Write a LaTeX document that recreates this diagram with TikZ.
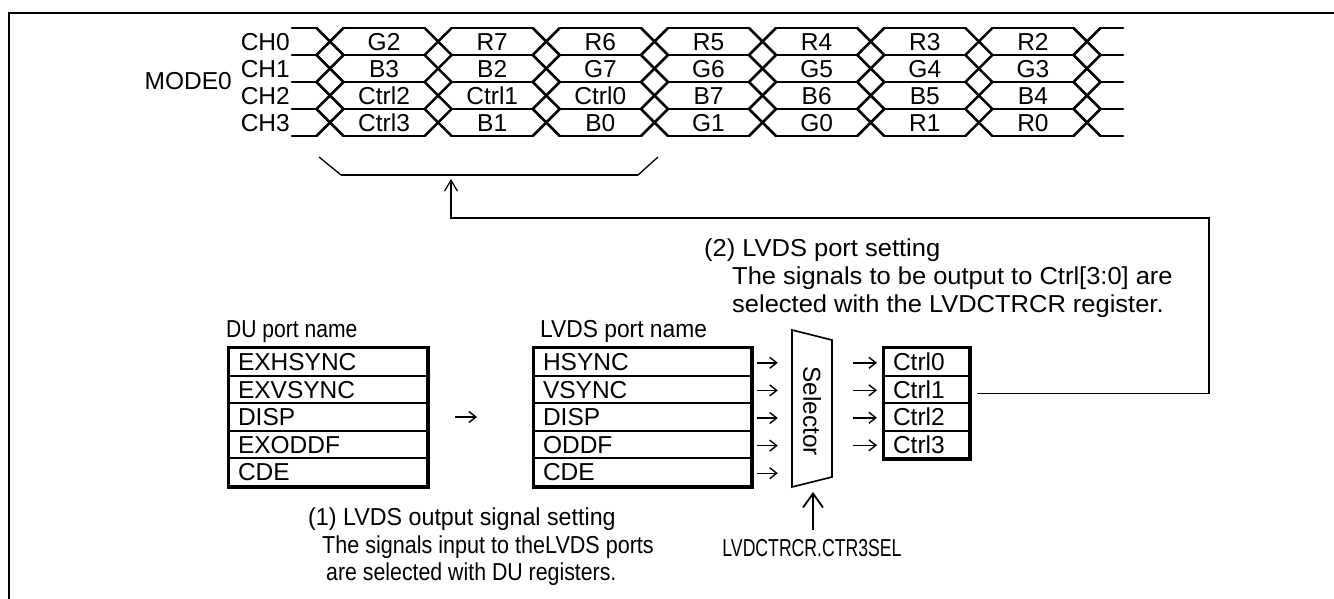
\documentclass[tikz,border=0pt]{standalone}
\usepackage{graphicx}
\usepackage{fontspec}
\setmainfont{Liberation Sans}
\usetikzlibrary{arrows.meta}
\newcommand\hsq[2]{\scalebox{#1}[1]{#2}}
\begin{document}
\begin{tikzpicture}[x=1bp,y=-1bp,
  every node/.style={font=\fontsize{24.5bp}{28bp}\selectfont, inner sep=0pt},
  wave/.style={line width=2.6bp, line cap=round},
  cell/.style={draw, line width=2bp, minimum height=27.6bp, anchor=north west,
     text height=17.5bp, text depth=0bp, inner xsep=9bp, align=left},
  outer/.style={line width=3bp},
  tarr/.style={line width=1.4bp, -{Straight Barb[length=7bp,width=11bp]}},
  uarr/.style={line width=1.8bp, -{Straight Barb[length=14bp,width=20bp]}},
  fb/.style={line width=1.2bp, -{Straight Barb[length=11bp,width=13bp]}},
  txt/.style={anchor=base west},
]
\useasboundingbox (0,0) rectangle (1334,599);
% frame
\draw[line width=2.6bp] (9,599) -- (9,13) -- (1334,13);

% ---------- timing waveforms ----------
\def\cw{13.5}
\foreach \k in {0,...,4}{
  \pgfmathsetmacro\yy{28+27*\k}
  \draw[wave] (292,\yy) -- ({330-\cw},\yy);
  \foreach \j in {0,...,6}{
    \draw[wave] ({330+108.14*\j+\cw},\yy) -- ({330+108.14*(\j+1)-\cw},\yy);
  }
  \draw[wave] ({1087+\cw},\yy) -- (1123,\yy);
}
\foreach \j in {0,...,7}{
  \foreach \k in {0,...,3}{
    \pgfmathsetmacro\cx{330+108.14*\j}
    \pgfmathsetmacro\ya{28+27*\k}
    \pgfmathsetmacro\yb{55+27*\k}
    \draw[wave] ({\cx-\cw},\ya) -- ({\cx+\cw},\yb);
    \draw[wave] ({\cx-\cw},\yb) -- ({\cx+\cw},\ya);
  }
}
% channel labels
\node[anchor=base east] (ch0) at (290,50.3) {CH0};
\node[anchor=base east] (ch1) at (290,77.3) {CH1};
\node[anchor=base east] (ch2) at (290,104.3) {CH2};
\node[anchor=base east] (ch3) at (290,131.3) {CH3};
\node[anchor=base east] (mode) at (232,90) {MODE0};
% cell labels
\foreach \row [count=\k from 0] in {{G2,R7,R6,R5,R4,R3,R2},{B3,B2,G7,G6,G5,G4,G3},{Ctrl2,Ctrl1,Ctrl0,B7,B6,B5,B4},{Ctrl3,B1,B0,G1,G0,R1,R0}}{
  \foreach \lab [count=\j from 0] in \row {
    \node[anchor=base] (w\k\j) at ({330+108.14*\j+54.07},{50.3+27*\k}) {\lab};
  }
}
% brace under Ctrl cells
\draw[line width=1.3bp] (319,157) -- (341,175);
\draw[line width=1.3bp] (638,175) -- (658,157);
\draw[line width=2.6bp] (341,175) -- (638,175);
\coordinate (tip) at (451,179);
\coordinate (fbR) at (1209,218);

% ---------- DU port boxes ----------
\node[txt] (dulab) at (226,337) {\hsq{0.86}{DU port name}};
\foreach \t [count=\i] in {EXHSYNC,EXVSYNC,DISP,EXODDF,CDE}{
  \node[cell, text width=180bp] (du\i) at (228,{347+27.6*(\i-1)}) {\t};
}
\draw[outer] (du1.north west) rectangle (du5.south east);

% ---------- LVDS port boxes ----------
\node[txt] (lvlab) at (540,337) {\hsq{0.93}{LVDS port name}};
\foreach \t [count=\i] in {HSYNC,VSYNC,DISP,ODDF,CDE}{
  \node[cell, text width=199bp] (lv\i) at (533,{347+27.6*(\i-1)}) {\t};
}
\draw[outer] (lv1.north west) rectangle (lv5.south east);

\draw[tarr, shorten <=27bp, shorten >=56bp] (du3.east) -- (lv3.west);

% ---------- selector ----------
\draw[line width=1.6bp] (792,330) -- (832,340) -- (832,477) -- (792,487) -- cycle;
\node[minimum width=40bp, minimum height=157bp] (sel) at (812,408.5) {};
\node[rotate=-90] (seltxt) at (812,411) {Selector};
\foreach \i in {1,...,5}{
  \draw[tarr, shorten <=5bp, shorten >=14bp] ([yshift=-1bp]lv\i.east) -- ([yshift=-1bp]lv\i.east -| sel.west);
}

% ---------- Ctrl boxes ----------
\foreach \t [count=\i] in {Ctrl0,Ctrl1,Ctrl2,Ctrl3}{
  \node[cell, text width=67bp] (c\i) at (883,{347+27.5*(\i-1)}) {\t};
  \draw[tarr, shorten <=21bp, shorten >=6bp] ([yshift=-1bp]c\i.west -| sel.east) -- ([yshift=-1bp]c\i.west);
}
\draw[outer] (c1.north west) rectangle (c4.south east);

% feedback connector
\draw[fb] ([xshift=7bp,yshift=-4.5bp]c2.east) -| (fbR) -| (tip);

% ---------- register control ----------
\node (ctr) at (812,548) {\hsq{0.72}{LVDCTRCR.CTR3SEL}};
\coordinate (selb) at (813,482);
\draw[uarr, shorten <=9bp, shorten >=10bp] (ctr.north -| selb) -- (selb);

% ---------- notes ----------
\node[txt] (n2a) at (704,256) {\hsq{1.04}{(2) LVDS port setting}};
\node[txt] (n2b) at (732,284) {\hsq{1.04}{The signals to be output to Ctrl[3:0] are}};
\node[txt] (n2c) at (732,312) {\hsq{1.04}{selected with the LVDCTRCR register.}};

\node[txt] (n1a) at (308,525) {\hsq{0.95}{(1) LVDS output signal setting}};
\node[txt] (n1b) at (322,553) {\hsq{0.88}{The signals input to theLVDS ports}};
\node[txt] (n1c) at (326,580) {\hsq{0.87}{are selected with DU registers.}};
\end{tikzpicture}
\end{document}
